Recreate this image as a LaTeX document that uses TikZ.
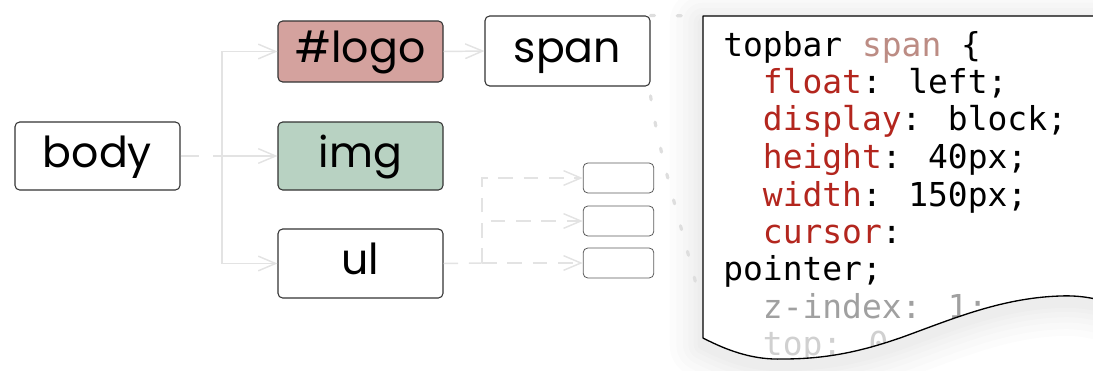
\documentclass[tikz,border=0pt]{standalone}
\usepackage{fontspec}
\usetikzlibrary{arrows.meta}
\newfontfamily\labfont{Poppins}
\newfontfamily\codefont{DejaVu Sans Mono}
\definecolor{connc}{HTML}{E3E3E3}
\definecolor{boxline}{HTML}{333333}
\definecolor{logofill}{HTML}{D4A29E}
\definecolor{imgfill}{HTML}{B8D2C2}
\definecolor{propred}{HTML}{B3261E}
\definecolor{selbrown}{HTML}{BC8C84}
\definecolor{dimgray}{HTML}{A0A0A0}
\definecolor{fadegray}{HTML}{D0D0D0}
\definecolor{dotc}{HTML}{DEDEDE}
\tikzset{
  box/.style={draw=boxline, line width=0.8pt, rounded corners=3.5pt, minimum width=123.75pt,
    inner sep=0pt, text height=24pt, text depth=7pt, font=\labfont\fontsize{32}{32}\selectfont},
  smallbox/.style={draw=boxline!80, line width=0.6pt, rounded corners=3.5pt, minimum width=53pt,
    minimum height=22.5pt, inner sep=0pt},
  conn/.style={draw=connc, line width=1.1pt},
  tip/.style={-{Straight Barb[length=13pt,width=11pt,line width=1.1pt]}},
  bodydash/.style={dash pattern=on 13.5pt off 11pt},
  uldash/.style={dash pattern=on 11pt off 8pt},
  zoomline/.style={draw=dotc, line width=2.4pt, line cap=round, dash pattern=on 3pt off 17pt},
  code/.style={anchor=base west, inner sep=0pt, font=\codefont\fontsize{24.7}{27.75}\selectfont}
}
\begin{document}
\begin{tikzpicture}[x=0.75pt,y=-0.75pt]
\useasboundingbox (0,0) rectangle (1093,371);

% ---- paper shadow ----
\def\wavepath{(703,338) .. controls (730,352) and (755,360) .. (783,359) .. controls (830,359) and (865,350) .. (900,338) .. controls (950,320) and (1000,298) .. (1060,296) .. controls (1085,295) and (1100,300) .. (1120,305)}
\def\paperpath{(1120,305) -- (1120,16) -- (703,16) -- \wavepath -- cycle}
\foreach \w in {50,40,30,22,14,8}{
  \draw[line width=\w pt, black, opacity=0.012, line join=round] [yshift=-5pt] \paperpath;
}

% ---- paper ----
\fill[white] \paperpath;
\begin{scope}
\clip \paperpath;
\node[code] (c1) at (723,56) {topbar \textcolor{selbrown}{span} \{};
\node[code] (c2) at (723,93) {\ \ \textcolor{propred}{float}: left;};
\node[code] (c3) at (723,130.5) {\ \ \textcolor{propred}{display}: block;};
\node[code] (c4) at (723,168) {\ \ \textcolor{propred}{height}: 40px;};
\node[code] (c5) at (723,206) {\ \ \textcolor{propred}{width}: 150px;};
\node[code] (c6) at (723,243) {\ \ \textcolor{propred}{cursor}:};
\node[code] (c7) at (723,280.5) {pointer;};
\node[code, text=dimgray] (c8) at (723,318) {\ \ z-index: 1;};
\node[code, text=fadegray] (c9) at (723,355.5) {\ \ top: 0;};
\end{scope}
\draw[black, line width=1pt, line join=round] (1120,16) -- (703,16) -- \wavepath;

% ---- nodes ----
\node[box, minimum height=51pt] (body) at (97.5,156) {body};
\node[box, fill=logofill, minimum height=45.75pt] (logo) at (360.5,51.5) {\#logo};
\node[box, fill=imgfill, minimum height=51pt] (img) at (360.5,156) {img};
\node[box, minimum height=51.75pt] (ul) at (360.5,263.5) {ul};
\node[box, minimum height=52.5pt] (span) at (567.5,51) {span};
\node[smallbox] (s1) at (618.5,178) {};
\node[smallbox] (s2) at (618.5,221) {};
\node[smallbox] (s3) at (618.5,263) {};

% ---- zoom lines ----
\coordinate (ptl) at (703,16);
\coordinate (zl) at (700,300);
\draw[zoomline] (span.north east) -- (ptl);
\draw[zoomline] ([yshift=-7pt]span.south east) .. controls (660,160) and (683,230) .. (zl);

% ---- connectors ----
\coordinate (t1) at (222,156);
\draw[conn, bodydash] (body.east) -- (t1);
\draw[conn, tip] (t1) -- (img.west);
\draw[conn, tip] (t1) |- (logo.west);
\draw[conn, tip] (t1) |- (ul.west);
\draw[conn, tip] (logo.east) -- (span.west);
\coordinate (t2) at (482,263);
\draw[conn, uldash] (ul.east) -- (t2);
\draw[conn, uldash, tip] (t2) |- (s1.west);
\draw[conn, uldash, tip] (t2) |- (s2.west);
\draw[conn, uldash, tip] (t2) -- (s3.west);
\end{tikzpicture}
\end{document}
